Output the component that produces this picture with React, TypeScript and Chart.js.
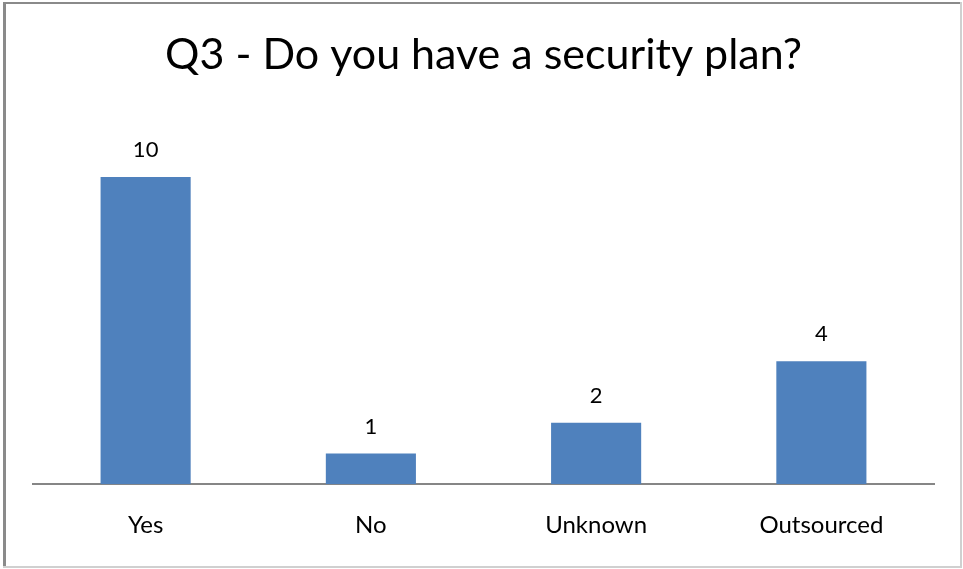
import React, { useEffect, useRef } from "react";
import { Chart, registerables } from "chart.js";

Chart.register(...registerables);

const categories = ["Yes", "No", "Unknown", "Outsourced"];
const values = [10, 1, 2, 4];
const titleText = "Q3 - Do you have a security plan?";

const FONT = "Lato, 'Open Sans', sans-serif";

const framePlugin = {
  id: "frame",
  afterDraw(chart: any) {
    const ctx = chart.ctx;
    ctx.save();
    ctx.fillStyle = "#8a8a8a";
    ctx.fillRect(3, 3, 3, 563);
    ctx.fillRect(3, 2, 958, 2);
    ctx.fillStyle = "#d0d0d0";
    ctx.fillRect(960, 2, 2, 566);
    ctx.fillRect(3, 566, 959, 2);
    ctx.restore();
  },
};

const valueLabels = {
  id: "valueLabels",
  afterDatasetsDraw(chart: any) {
    const ctx = chart.ctx;
    const meta = chart.getDatasetMeta(0);
    ctx.save();
    ctx.font = `22px ${FONT}`;
    ctx.fillStyle = "#000";
    ctx.textAlign = "center";
    ctx.textBaseline = "middle";
    meta.data.forEach((bar: any, i: number) => {
      ctx.fillText(String(chart.data.datasets[0].data[i]), bar.x, bar.y - 27);
    });
    ctx.restore();
  },
};

export default function App() {
  const ref = useRef<HTMLCanvasElement>(null);
  useEffect(() => {
    document.body.style.margin = "0";
    const chart = new Chart(ref.current!, {
      type: "bar",
      data: {
        labels: categories,
        datasets: [
          {
            data: values,
            backgroundColor: "#4F81BD",
            barPercentage: 0.4,
            categoryPercentage: 1,
          },
        ],
      },
      options: {
        animation: false,
        responsive: false,
        layout: { padding: { left: 33, right: 29, top: 0, bottom: 2 } },
        plugins: {
          legend: { display: false },
          tooltip: { enabled: false },
          title: {
            display: true,
            text: titleText,
            color: "#000",
            font: { family: FONT, size: 43, weight: "normal" },
            padding: { top: 29, bottom: 35 },
          },
        },
        scales: {
          x: {
            grid: { display: false, drawTicks: false },
            border: { display: true, color: "#868686", width: 2 },
            ticks: { color: "#000", font: { family: FONT, size: 24 }, padding: 27 },
          },
          y: { display: false, min: 0, max: 12 },
        },
      },
      plugins: [framePlugin, valueLabels],
    });
    return () => chart.destroy();
  }, []);
  return (
    <div style={{ width: 963, height: 569 }}>
      <canvas ref={ref} width={963} height={569} style={{ display: "block" }} />
    </div>
  );
}
